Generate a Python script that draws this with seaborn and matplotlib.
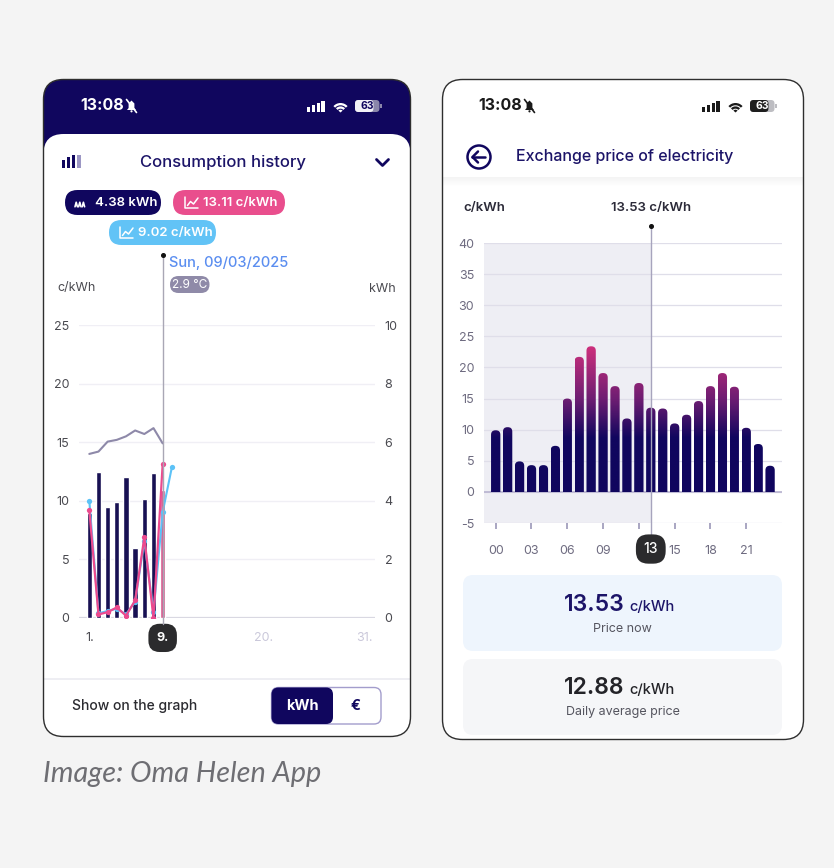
import numpy as np
import pandas as pd
import matplotlib
matplotlib.use("Agg")
import matplotlib.pyplot as plt
import matplotlib.transforms as mtransforms
from matplotlib.patches import FancyBboxPatch, Rectangle, Circle, Wedge, Polygon
from matplotlib.colors import LinearSegmentedColormap
import seaborn as sns

# ---------------- data ----------------
month_days = [1, 2, 3, 4, 5, 6, 7, 8, 9]
daily_kwh = [3.6, 5.0, 3.8, 3.95, 4.8, 2.4, 4.05, 4.95, 4.38]
daily_price_total = [9.2, 0.3, 0.5, 0.9, 0.2, 1.5, 6.9, 0.0, 13.11]
spot_days = [1, 2, 3, 4, 5, 6, 7, 8, 9, 10]
daily_price_spot = [10.0, 0.4, 0.6, 0.8, 0.3, 1.4, 6.6, 0.5, 9.02, 12.85]
temperature_curve = [14.0, 14.2, 15.05, 15.2, 15.5, 16.0, 15.7, 16.2, 14.9]
selected_day = 9
selected_date = "Sun, 09/03/2025"
selected_temp = "2.9 °C"
month_ticks = [1, 9, 20, 31]
month_tick_labels = ["1.", "9.", "20.", "31."]
price_ticks_left = [0, 5, 10, 15, 20, 25]
kwh_ticks = [0, 2, 4, 6, 8, 10]

hours = list(range(24))
hourly_price = [9.9, 10.4, 4.9, 4.3, 4.3, 7.4, 15.0, 21.7, 23.4, 19.1, 17.0, 11.8,
                17.5, 13.53, 13.4, 11.0, 12.4, 14.6, 17.0, 19.1, 16.9, 10.3, 7.7, 4.2]
selected_hour = 13
hour_ticks = [0, 3, 6, 9, 12, 15, 18, 21]
hour_tick_labels = ["00", "03", "06", "09", "12", "15", "18", "21"]
hourly_y_ticks = [-5, 0, 5, 10, 15, 20, 25, 30, 35, 40]
daily_average_price = 12.88

# ---------------- style ----------------
sns.set_theme(style="white")
plt.rcParams["font.family"] = ["Inter", "DejaVu Sans"]
plt.rcParams["axes.unicode_minus"] = False

NAVY = "#10065e"
NAVY_T = "#1c1468"
PINK = "#ec4a8e"
BLUE = "#5cc2f7"
TEMP = "#8e89a9"
W, H = 834, 868

fig = plt.figure(figsize=(W / 100, H / 100), dpi=100)
fig.patch.set_facecolor("#f4f4f4")
bg = fig.add_axes([0, 0, 1, 1])
bg.set_xlim(0, W)
bg.set_ylim(H, 0)
bg.axis("off")


def rbox(x, y, w, h, r, **kw):
    p = FancyBboxPatch((x, y), w, h, boxstyle=f"round,pad=0,rounding_size={r}", **kw)
    bg.add_patch(p)
    return p


def status_bar(x_time, x_sig, col, batt_fill, batt_rest, batt_txt):
    bg.text(x_time, 106, "13:08", color=col, fontsize=11.5, fontweight="bold", va="center")
    bx = x_time + 47
    bg.add_patch(Polygon([(bx, 110), (bx + 1.6, 108), (bx + 1.6, 103.5), (bx + 4.5, 100.5),
                          (bx + 7.4, 103.5), (bx + 7.4, 108), (bx + 9, 110)], closed=True,
                         fc=col, ec="none", zorder=5))
    bg.add_patch(Circle((bx + 4.5, 111.3), 1.1, fc=col, ec="none", zorder=5))
    bg.plot([bx - 0.5, bx + 9.5], [99.5, 112.5], color=col, lw=1.2, zorder=6)
    for i, hgt in enumerate([4.5, 6.5, 8.5, 11]):
        bg.add_patch(Rectangle((x_sig + i * 4.8, 111.5 - hgt), 3.2, hgt, fc=col, ec="none", zorder=5))
    wc = (x_sig + 33.5, 112.5)
    bg.add_patch(Wedge(wc, 9.5, 222, 318, width=2.3, fc=col, ec="none", zorder=5))
    bg.add_patch(Wedge(wc, 6.1, 222, 318, width=2.3, fc=col, ec="none", zorder=5))
    bg.add_patch(Wedge(wc, 2.8, 222, 318, fc=col, ec="none", zorder=5))
    bxx = x_sig + 48
    rbox(bxx, 100, 24.5, 12, 3.5, fc=batt_rest, ec="none", zorder=5)
    rbox(bxx, 100, 24.5 * 0.63 + 3, 12, 3.5, fc=batt_fill, ec="none", zorder=5)
    bg.add_patch(Rectangle((bxx + 25.3, 104), 1.6, 4, fc=batt_rest, ec="none", zorder=5))
    bg.text(bxx + 12.2, 106.3, "63", color=batt_txt, fontsize=7.5, fontweight="bold",
            ha="center", va="center", zorder=6)


# ---------------- left phone ----------------
lp = rbox(43.5, 79.5, 367, 657, 20, fc="white", ec="none", zorder=1)
hdr = Rectangle((43, 79), 368, 80, fc=NAVY, ec="none", zorder=2)
bg.add_patch(hdr)
hdr.set_clip_path(lp)
card = rbox(43.5, 134, 367, 610, 20, fc="white", ec="none", zorder=3)
card.set_clip_path(lp)
rbox(43.5, 79.5, 367, 657, 20, fc="none", ec="#2e2e2e", lw=1.0, zorder=20)
status_bar(80, 307, "white", "#f2f1f7", "#8a86aa", NAVY)

# bar icon
for xi, top, c in [(62, 160.3, NAVY), (67, 157, NAVY), (72, 154.7, NAVY), (77.3, 155.3, "#9c97c4")]:
    bg.add_patch(Rectangle((xi, top), 3.4, 168 - top, fc=c, ec="none", zorder=5))
bg.text(223, 162, "Consumption history", ha="center", va="center", fontsize=12,
        color=NAVY_T, fontweight="medium", zorder=5)
bg.plot([376.5, 382.5, 388.5], [159.5, 165.5, 159.5], color=NAVY, lw=2, zorder=5,
        solid_capstyle="round", solid_joinstyle="round")

# badges
rbox(65, 190, 96, 25, 12.5, fc=NAVY, ec="none", zorder=5)
for k in range(3):
    xs = 75 + k * 3.6 + np.array([0, 1.2, 2.4])
    ys = 204.5 + np.array([2.5, -2.5, 2.5]) * 0.9
    bg.plot(xs, ys, color="white", lw=1.2, zorder=6)
bg.text(95, 203, f"{daily_kwh[-1]:.2f} kWh", color="white", fontsize=9.5,
        fontweight="semibold", va="center", zorder=6)


def chart_icon(x, y):
    bg.plot([x, x, x + 12.5], [y - 6, y + 5.5, y + 5.5], color="white", lw=1.1, zorder=6)
    bg.plot([x + 2, x + 5, x + 8, x + 12.5], [y + 3, y - 1, y + 1.5, y - 4.5],
            color="white", lw=1.1, zorder=6)


rbox(173, 190, 112, 25, 12.5, fc="#e94e8d", ec="none", zorder=5)
chart_icon(185.5, 202.5)
bg.text(203, 203, f"{daily_price_total[-1]:.2f} c/kWh", color="white", fontsize=9.5,
        fontweight="semibold", va="center", zorder=6)
rbox(109, 220, 107, 25, 12.5, fc="#62c3f6", ec="none", zorder=5)
chart_icon(120.5, 232.5)
bg.text(138, 233, f"{daily_price_spot[selected_day - 1]:.2f} c/kWh", color="white",
        fontsize=9.5, fontweight="semibold", va="center", zorder=6)

# selected-day annotation
bg.text(169.5, 263.5, selected_date, color="#5b8ef0", fontsize=10.5,
        fontweight="medium", va="center", zorder=6)
rbox(170, 276, 39.5, 17, 8.5, fc="#8f8aa8", ec="none", zorder=5)
bg.text(189.8, 284.8, selected_temp, color="white", fontsize=8.5, ha="center",
        va="center", zorder=6)
bg.text(57, 288.5, "c/kWh", color="#4a4a50", fontsize=9, va="center", zorder=6)
bg.text(396, 288.5, "kWh", color="#4a4a50", fontsize=9, va="center", ha="right", zorder=6)

# bottom of left phone
bg.plot([44, 410], [679, 679], color="#ebebf1", lw=1.2, zorder=5)
bg.text(72, 706, "Show on the graph", color="#2b2b30", fontsize=10,
        fontweight="medium", va="center", zorder=6)
rbox(271.5, 687.5, 109.5, 36.5, 7, fc="white", ec="#a39dcc", lw=1, zorder=5)
rbox(271.5, 687.5, 61.5, 36.5, 7, fc=NAVY, ec="none", zorder=6)
bg.text(302, 706, "kWh", color="white", fontsize=10.5, fontweight="bold",
        ha="center", va="center", zorder=7)
bg.text(356, 706, "€", color=NAVY, fontsize=10.5, fontweight="bold",
        ha="center", va="center", zorder=7)

# ---------------- right phone ----------------
rbox(442.5, 79.5, 361, 660, 20, fc="white", ec="#2e2e2e", lw=1.0, zorder=1)
status_bar(478, 702, "#1a1a1a", "#1e1e1e", "#bdbdc2", "white")
bg.add_patch(Circle((479, 157), 11.5, fc="none", ec=NAVY, lw=1.8, zorder=5))
bg.plot([472.5, 485.5], [157, 157], color=NAVY, lw=1.8, zorder=5, solid_capstyle="round")
bg.plot([478, 472.5, 478], [151.5, 157, 162.5], color=NAVY, lw=1.8, zorder=5,
        solid_capstyle="round", solid_joinstyle="round")
bg.text(516, 157, "Exchange price of electricity", color=NAVY_T, fontsize=11.5,
        fontweight="medium", va="center", zorder=5)
for i in range(9):
    bg.add_patch(Rectangle((443, 177 + i), 360, 1, fc="black", alpha=0.045 * (1 - i / 9),
                           ec="none", zorder=4))
bg.text(463, 207.5, "c/kWh", color="#2b2a38", fontsize=9.5, fontweight="semibold",
        va="center", zorder=6)
bg.text(651, 207.5, f"{hourly_price[selected_hour]:.2f} c/kWh", color="#2b2a38",
        fontsize=9.5, fontweight="semibold", va="center", ha="center", zorder=6)

rbox(463, 575, 319, 76, 10, fc="#eef5fd", ec="none", zorder=3)
rbox(463, 659, 319, 76, 10, fc="#f5f6f8", ec="none", zorder=3)
bg.text(624.5, 611, f"{hourly_price[selected_hour]:.2f}", color=NAVY_T, fontsize=16.5,
        fontweight="semibold", ha="right", va="baseline", zorder=6)
bg.text(629, 611, "c/kWh", color=NAVY_T, fontsize=10.5, fontweight="medium",
        ha="left", va="baseline", zorder=6)
bg.text(622.5, 629, "Price now", color="#55555f", fontsize=9, ha="center",
        va="center", zorder=6)
bg.text(624.5, 694, f"{daily_average_price:.2f}", color="#232328", fontsize=16.5,
        fontweight="semibold", ha="right", va="baseline", zorder=6)
bg.text(629, 694, "c/kWh", color="#232328", fontsize=10.5, fontweight="medium",
        ha="left", va="baseline", zorder=6)
bg.text(622.5, 712, "Daily average price", color="#55555f", fontsize=9, ha="center",
        va="center", zorder=6)

# caption
bg.text(43, 774, "Image: Oma Helen App", color="#6e6e73", fontsize=20.8,
        family=["Lato", "DejaVu Sans"], style="italic", va="center")


def add_ax(x0, y0, x1, y1):
    a = fig.add_axes([x0 / W, (H - y1) / H, (x1 - x0) / W, (y1 - y0) / H])
    a.set_facecolor("none")
    return a


# ---------------- left chart ----------------
ax = add_ax(79, 325, 375, 618)
axk = ax.twinx()
ax.set_zorder(axk.get_zorder() + 1)
ax.patch.set_visible(False)
axk.patch.set_visible(False)

df_days = pd.DataFrame({"day": month_days, "kwh": daily_kwh,
                        "state": ["past" if d != selected_day else "selected" for d in month_days]})
sns.barplot(data=df_days, x="day", y="kwh", hue="state", native_scale=True,
            palette={"past": NAVY, "selected": PINK}, width=0.58, dodge=False,
            errorbar=None, legend=False, ax=axk, zorder=2)

sns.lineplot(x=month_days, y=temperature_curve, color=TEMP, lw=1.5, ax=ax, zorder=3)
sns.lineplot(x=spot_days, y=daily_price_spot, color=BLUE, lw=1.5, marker="o",
             markersize=3.8, markeredgewidth=0, ax=ax, zorder=4)
sns.lineplot(x=month_days, y=daily_price_total, color=PINK, lw=1.6, marker="o",
             markersize=3.8, markeredgewidth=0, ax=ax, zorder=5)

xmin_l = 1 - 10.3 / 9.17
ax.set_xlim(xmin_l, xmin_l + 296 / 9.17)
ax.set_ylim(0, 25)
axk.set_ylim(0, 10)
ax.set_yticks(price_ticks_left)
axk.set_yticks(kwh_ticks)
ax.set_xticks(month_ticks, month_tick_labels)
for a in (ax, axk):
    for s in a.spines.values():
        s.set_visible(False)
    a.set_xlabel("")
    a.set_ylabel("")
ax.grid(False)
axk.set_axisbelow(True)
axk.grid(axis="y", color="#f0eff5", lw=1.0)
axk.grid(axis="x", visible=False)
axk.axhline(0, color="#d9d8e2", lw=1.6, zorder=1)
ax.tick_params(axis="y", length=0, pad=7, labelsize=9, labelcolor="#4a4a50")
axk.tick_params(axis="y", length=0, pad=7, labelsize=9, labelcolor="#4a4a50")
ax.tick_params(axis="x", length=0, pad=10, labelsize=9)
tl = mtransforms.blended_transform_factory(ax.transData, ax.transAxes)
ax.plot([selected_day, selected_day], [-0.02, 1.239], transform=tl, color="#a9a7b5",
        lw=1.0, clip_on=False, zorder=6)
ax.plot([selected_day], [1.239], transform=tl, marker="o", ms=2.6, color="#111",
        clip_on=False, zorder=7)
for lbl, d in zip(ax.get_xticklabels(), month_ticks):
    if d == selected_day:
        lbl.set_color("white")
        lbl.set_fontweight("bold")
        lbl.set_bbox(dict(boxstyle="round,pad=0.65,rounding_size=0.9", fc="#2b2b2d", ec="none"))
    elif d < selected_day:
        lbl.set_color("#4a4a50")
    else:
        lbl.set_color("#cac8da")

# ---------------- right chart ----------------
ar = add_ax(484, 243, 782, 523)
xmin_r = -(495.7 - 484) / 11.93
sns.barplot(x=hours, y=hourly_price, native_scale=True, width=0.78, color=NAVY,
            errorbar=None, ax=ar)
bar_patches = list(ar.patches)
cmap = LinearSegmentedColormap.from_list(
    "spot", [(0.0, NAVY), (0.36, NAVY), (0.62, "#6d1d72"), (1.0, "#d4317d")])
r_round = 0.37
asp = 11.93 / 6.225
for p in bar_patches:
    x0, w, h = p.get_x(), p.get_width(), p.get_height()
    p.set_visible(False)
    grad = np.linspace(0, h, 200).reshape(-1, 1)
    im = ar.imshow(grad, extent=(x0, x0 + w, 0, h), origin="lower", cmap=cmap,
                   vmin=0, vmax=24, aspect="auto", interpolation="bilinear", zorder=2)
    clip = FancyBboxPatch((x0, -3), w, h + 3,
                          boxstyle=f"round,pad=0,rounding_size={r_round}",
                          mutation_aspect=asp, transform=ar.transData)
    im.set_clip_path(clip)
ar.axvspan(xmin_r, selected_hour, color="#eeeef4", zorder=0, lw=0)

ar.set_xlim(xmin_r, xmin_r + 298 / 11.93)
ar.set_ylim(-5, 40)
ar.set_yticks(hourly_y_ticks)
ar.set_xticks(hour_ticks, ["" if abs(t - selected_hour) < 1.5 else l
                           for t, l in zip(hour_ticks, hour_tick_labels)])
for s in ar.spines.values():
    s.set_visible(False)
ar.set_xlabel("")
ar.set_ylabel("")
ar.grid(axis="y", color="#dfdee9", lw=0.9)
ar.grid(axis="x", visible=False)
ar.axhline(0, color="#bcb8d2", lw=1.3, zorder=1.8)
ar.tick_params(axis="y", length=0, pad=7, labelsize=9, labelcolor="#6e6b80")
ar.tick_params(axis="x", direction="out", length=4.5, width=1.3, color="#a29fbd",
               pad=11, labelsize=9, labelcolor="#6e6b80", bottom=True)
tr = mtransforms.blended_transform_factory(ar.transData, ar.transAxes)
ar.plot([selected_hour, selected_hour], [-0.13, 1.061], transform=tr, color="#a7a4bd",
        lw=1.0, clip_on=False, zorder=6)
ar.plot([selected_hour], [1.061], transform=tr, marker="o", ms=2.6, color="#111",
        clip_on=False, zorder=7)
ar.text(selected_hour, -0.093, f"{selected_hour}", transform=tr, ha="center", va="center",
        color="white", fontsize=10, fontweight="medium", zorder=10, clip_on=False,
        bbox=dict(boxstyle="round,pad=0.55,rounding_size=0.9", fc="#2b2b2d", ec="none"))

fig.savefig("out.png", dpi=100, facecolor=fig.get_facecolor())
